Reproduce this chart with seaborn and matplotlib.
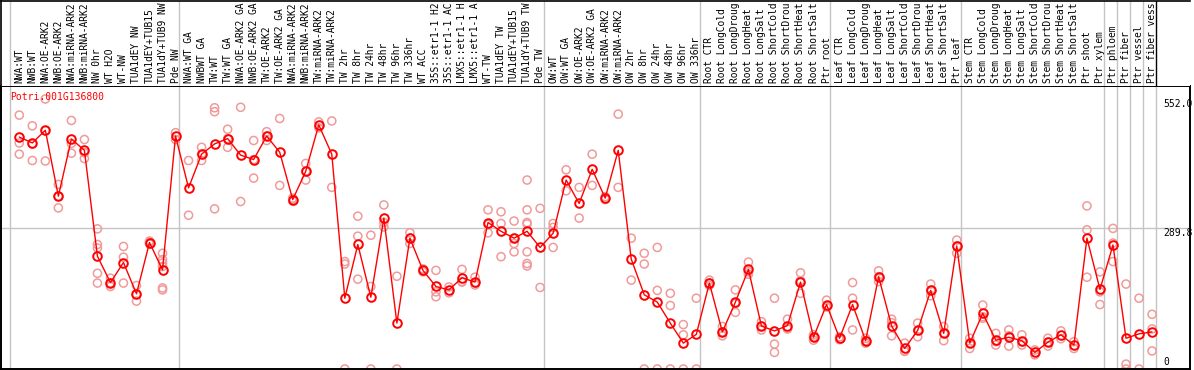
import numpy as np
import pandas as pd
import matplotlib
matplotlib.use("Agg")
import matplotlib.pyplot as plt
import matplotlib.transforms as mtransforms
import seaborn as sns

# ---------------- data ----------------
gene_id = "Potri.001G136800"

labels = [
    "NWA:WT", "NWB:WT", "NWA:OE-ARK2", "NWB:OE-ARK2", "NWA:miRNA-ARK2", "NWB:miRNA-ARK2",
    "NW 0hr", "WT H2O", "WT-NW", "TUA1dEY NW", "TUA1dEY+TUB15", "TUA1dY+TUB9 NW", "Pde NW",
    "NWA:WT GA", "NWBWT GA", "TW:WT", "TW:WT GA", "NWA:OE-ARK2 GA", "NWB:OE-ARK2 GA",
    "TW:OE-ARK2", "TW:OE-ARK2 GA", "NWA:miRNA-ARK2", "NWB:miRNA-ARK2", "TW:miRNA-ARK2",
    "TW:miRNA-ARK2", "TW 2hr", "TW 8hr", "TW 24hr", "TW 48hr", "TW 96hr", "TW 336hr",
    "WT ACC", "35S::etr1-1 H2", "35S::etr1-1 AC", "LMX5::etr1-1 H", "LMX5::etr1-1 A",
    "WT-TW", "TUA1dEY TW", "TUA1dEY+TUB15", "TUA1dY+TUB9 TW", "Pde TW",
    "OW:WT", "OW:WT GA", "OW:OE-ARK2", "OW:OE-ARK2 GA", "OW:miRNA-ARK2", "OW:miRNA-ARK2",
    "OW 2hr", "OW 8hr", "OW 24hr", "OW 48hr", "OW 96hr", "OW 336hr",
    "Root CTR", "Root LongCold", "Root LongDroug", "Root LongHeat", "Root LongSalt",
    "Root ShortCold", "Root ShortDrou", "Root ShortHeat", "Root ShortSalt", "Ptr root",
    "Leaf CTR", "Leaf LongCold", "Leaf LongDroug", "Leaf LongHeat", "Leaf LongSalt",
    "Leaf ShortCold", "Leaf ShortDrou", "Leaf ShortHeat", "Leaf ShortSalt", "Ptr leaf",
    "Stem CTR", "Stem LongCold", "Stem LongDroug", "Stem LongHeat", "Stem LongSalt",
    "Stem ShortCold", "Stem ShortDrou", "Stem ShortHeat", "Stem ShortSalt", "Ptr shoot",
    "Ptr xylem", "Ptr phloem", "Ptr fiber", "Ptr vessel", "Ptr fiber vess",
]

means = [
    475, 463, 489, 354, 471, 448, 231, 177, 218, 154, 259, 203, 477,
    371, 440, 461, 472, 438, 429, 477, 444, 347, 405, 500, 440, 145, 255, 147, 309, 94,
    268, 202, 169, 162, 187, 178, 300, 282, 268, 282, 249,
    278, 387, 339, 409, 350, 448, 225, 152, 137, 94, 53, 71,
    176, 76, 137, 204, 88, 78, 89, 178, 65, 132,
    63, 132, 58, 189, 88, 42, 79, 161, 73, 252,
    53, 114, 59, 65, 58, 34, 55, 70, 49, 268, 163,
    254, 63, 72, 76,
]

replicates = [
    [520, 463, 440], [498, 461, 427], [553, 488, 426], [378, 354, 330], [509, 462, 442],
    [470, 443, 431], [287, 255, 248, 196, 176], [186, 176, 169], [251, 229, 176],
    [171, 153, 139], [262, 259, 256], [237, 224, 217, 210, 162, 166], [484, 470],
    [427, 315], [454, 440, 427], [535, 527, 328], [491, 472, 454], [536, 343],
    [468, 429, 391], [486, 477, 468], [513, 376], [350, 347, 344], [421, 405, 387],
    [506, 494], [508, 372], [220, 215, 0], [313, 272, 184], [274, 169, 0],
    [336, 300, 291], [190, 0], [279, 268, 257], [205, 199], [202, 158, 148],
    [168, 156], [204, 178, 179], [188, 176, 172], [326, 296, 279], [322, 298, 230],
    [303, 268, 257, 240], [387, 326, 300, 297, 240, 216, 211], [329, 167],
    [298, 290, 249], [408, 365], [372, 309], [440, 376], [353, 347], [522, 372],
    [268, 182], [237, 215, 0], [249, 161, 0], [155, 130, 0], [91, 70, 0], [145, 0],
    [182, 176, 171], [87, 76, 68], [162, 134, 116], [219, 199, 194], [97, 88, 80],
    [145, 51, 34], [102, 83, 82], [197, 181, 155], [70, 65, 59], [141, 128, 127],
    [66, 60], [177, 145, 80], [63, 58, 53], [201, 189, 179], [102, 95, 68],
    [53, 37, 36], [94, 79, 66], [174, 161, 150], [87, 73, 58], [264, 252, 237],
    [63, 53, 42], [131, 107, 104], [73, 56, 49], [80, 68, 47], [70, 56, 49],
    [39, 29], [63, 55, 47], [78, 62], [56, 42], [334, 285, 188], [199, 158, 132],
    [288, 258, 220], [174, 10, 0], [145, 0], [112, 82, 37],
]

group_starts = [0, 13, 41, 53, 63, 73, 84, 85, 86, 87, 88]

max_value = 552.0
mid_value = 289.8

# ---------------- frames ----------------
idx = np.arange(len(labels))
df_mean = pd.DataFrame({"idx": idx, "value": means})
rep_rows = [(i, v) for i, reps in enumerate(replicates) for v in reps]
df_rep = pd.DataFrame(rep_rows, columns=["idx", "value"])

# ---------------- figure ----------------
W, H = 1194, 370
sns.set_style("white")
plt.rcParams["font.family"] = ["DejaVu Sans Mono"]
fig = plt.figure(figsize=(W / 100, H / 100), dpi=100)

plot_left_px, plot_right_px = 1, 1190
plot_top_px, plot_bottom_px = 86, 369
ax = fig.add_axes([plot_left_px / W, (H - plot_bottom_px) / H,
                   (plot_right_px - plot_left_px) / W, (plot_bottom_px - plot_top_px) / H])
hax = fig.add_axes([plot_left_px / W, (H - plot_top_px) / H,
                    (plot_right_px - plot_left_px) / W, (plot_top_px - 0.5) / H])

x0_px, step_px = 19.3, 13.02
xlim = ((plot_left_px - x0_px) / step_px, (plot_right_px - x0_px) / step_px)
ylim = (0, max_value * 1.05)

grey = "#c4c4c4"
for g in group_starts:
    ax.axvline(g - 0.7, color=grey, lw=1.0, zorder=0)
    hcol = "black" if g == group_starts[-1] else grey
    hax.axvline(g - 0.7, color=hcol, lw=1.0, zorder=0)
ax.axhline(mid_value, color=grey, lw=1.0, zorder=0)

sns.scatterplot(data=df_rep, x="idx", y="value", ax=ax, marker="o", s=34,
                facecolors="none", edgecolor="#f09a9a", linewidth=1.1, zorder=2,
                clip_on=False, legend=False)
sns.lineplot(data=df_mean, x="idx", y="value", ax=ax, estimator=None, color="#ff0000",
             lw=1.0, marker="o", markersize=6.2, markerfacecolor="none",
             markeredgecolor="#ff0000", markeredgewidth=1.4, zorder=3, legend=False)

ax.set_xlim(*xlim)
ax.set_ylim(*ylim)
ax.set_xticks([])
ax.set_yticks([])
ax.set_xlabel("")
ax.set_ylabel("")
for s in ax.spines.values():
    s.set_color("black")
    s.set_linewidth(1.4)
    s.set_zorder(5)

trans = mtransforms.blended_transform_factory(ax.transAxes, ax.transData)
lab_x = (1163 - plot_left_px) / (plot_right_px - plot_left_px)
ax.text(lab_x, max_value, f"{max_value:.1f}", transform=trans, ha="left", va="top",
        fontsize=7.0, color="black", clip_on=False)
ax.text(lab_x, mid_value, f"{mid_value:.1f}", transform=trans, ha="left", va="top",
        fontsize=7.0, color="black", clip_on=False)
ax.text(lab_x, 4, "0", transform=trans, ha="left", va="bottom",
        fontsize=7.0, color="black", clip_on=False)

ax.text((10 - plot_left_px) / (plot_right_px - plot_left_px),
        1 - (97 - plot_top_px) / (plot_bottom_px - plot_top_px),
        gene_id, transform=ax.transAxes, ha="left", va="center", fontsize=7.0, color="#ff0000")

# header
hax.set_xlim(*xlim)
hax.set_ylim(0, plot_top_px - 0.5)
hax.set_xticks([])
hax.set_yticks([])
for name, s in hax.spines.items():
    s.set_visible(name in ("top", "left"))
    s.set_color("black")
    s.set_linewidth(1.2)
for i, lab in enumerate(labels):
    hax.text(i, 3, lab, rotation=90, ha="center", va="bottom",
             fontsize=6.9, color="black")

fig.savefig("out.png", dpi=100)
